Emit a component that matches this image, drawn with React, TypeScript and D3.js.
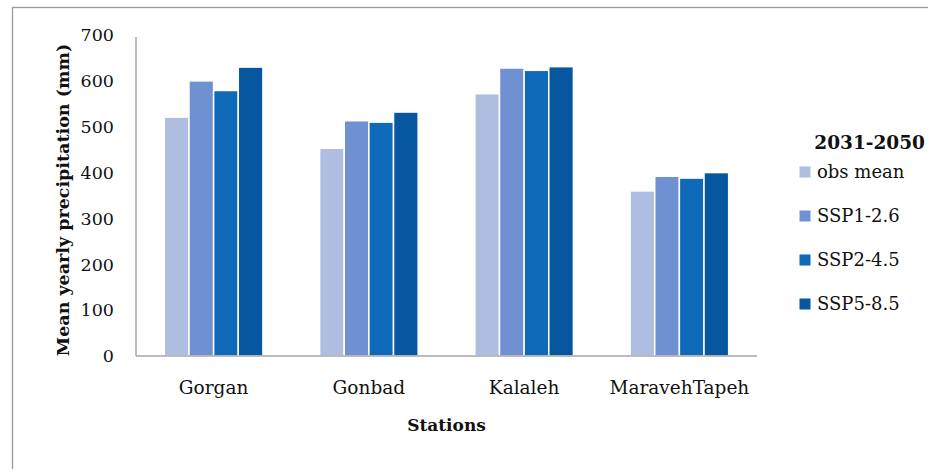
import React from "react";
import * as d3 from "d3";

const stations = ["Gorgan", "Gonbad", "Kalaleh", "MaravehTapeh"];
const seriesNames = ["obs mean", "SSP1-2.6", "SSP2-4.5", "SSP5-8.5"];
const obsMean = [521, 453, 572, 360];
const ssp126 = [600, 513, 628, 392];
const ssp245 = [579, 510, 623, 388];
const ssp585 = [630, 532, 631, 400];
const yTicks = [0, 100, 200, 300, 400, 500, 600, 700];
const colors = ["#afbde0", "#6f91d1", "#0f69b9", "#0756a0"];
const legendTitle = "2031-2050";

const seriesValues = [obsMean, ssp126, ssp245, ssp585];

export default function App() {
  const W = 928, H = 469;
  const x0 = 136, x1 = 757, yBase = 356, yTop = 35;
  const x = d3.scaleBand<string>().domain(stations).range([x0, x1]).paddingInner(0.365).paddingOuter(0.1825);
  const xs = d3.scaleBand<string>().domain(seriesNames).range([0, x.bandwidth()]).padding(0);
  const y = d3.scaleLinear().domain([0, 700]).range([yBase, yTop]);
  const font = "'DejaVu Serif', serif";
  return (
    <svg width={W} height={H} style={{ position: "absolute", left: 0, top: 0, background: "#fff" }} fontFamily={font}>
      <rect x={0} y={0} width={W} height={H} fill="#fff" />
      <rect x={12.5} y={7.5} width={1000} height={1000} fill="none" stroke="#9a9a9a" strokeWidth={1.3} />
      {stations.map((s, i) => (
        <g key={s} transform={`translate(${x(s)},0)`}>
          {seriesNames.map((n, j) => (
            <rect
              key={n}
              x={xs(n)}
              y={y(seriesValues[j][i])}
              width={xs.bandwidth()}
              height={yBase - y(seriesValues[j][i])}
              fill={colors[j]}
              stroke="#fff"
              strokeWidth={1.5}
            />
          ))}
        </g>
      ))}
      <line x1={x0} x2={x0} y1={yTop + 2} y2={yBase} stroke="#a6a6a6" strokeWidth={1.5} />
      <line x1={x0} x2={x1} y1={yBase} y2={yBase} stroke="#a6a6a6" strokeWidth={1.5} />
      {yTicks.map((t) => (
        <text key={t} x={114} y={y(t)} dy="0.36em" textAnchor="end" fontSize={17.5} fill="#111">
          {t}
        </text>
      ))}
      {stations.map((s) => (
        <text key={s} x={(x(s) as number) + x.bandwidth() / 2} y={394} textAnchor="middle" fontSize={18.5} fill="#111">
          {s}
        </text>
      ))}
      <text x={(x0 + x1) / 2} y={431} textAnchor="middle" fontSize={17} fontWeight="bold" fill="#111">
        Stations
      </text>
      <text transform={`translate(69,${(47 + 353) / 2}) rotate(-90)`} textAnchor="middle" fontSize={17.5} fontWeight="bold" fill="#111">
        Mean yearly precipitation (mm)
      </text>
      <text x={925} y={149} textAnchor="end" fontSize={18.5} fontWeight="bold" fill="#111">
        {legendTitle}
      </text>
      {seriesNames.map((n, j) => (
        <g key={n} transform={`translate(0,${172 + j * 44})`}>
          <rect x={799.5} y={-5.5} width={11} height={11} fill={colors[j]} />
          <text x={817} y={0} dy="0.36em" fontSize={18} fill="#111">
            {n}
          </text>
        </g>
      ))}
    </svg>
  );
}
